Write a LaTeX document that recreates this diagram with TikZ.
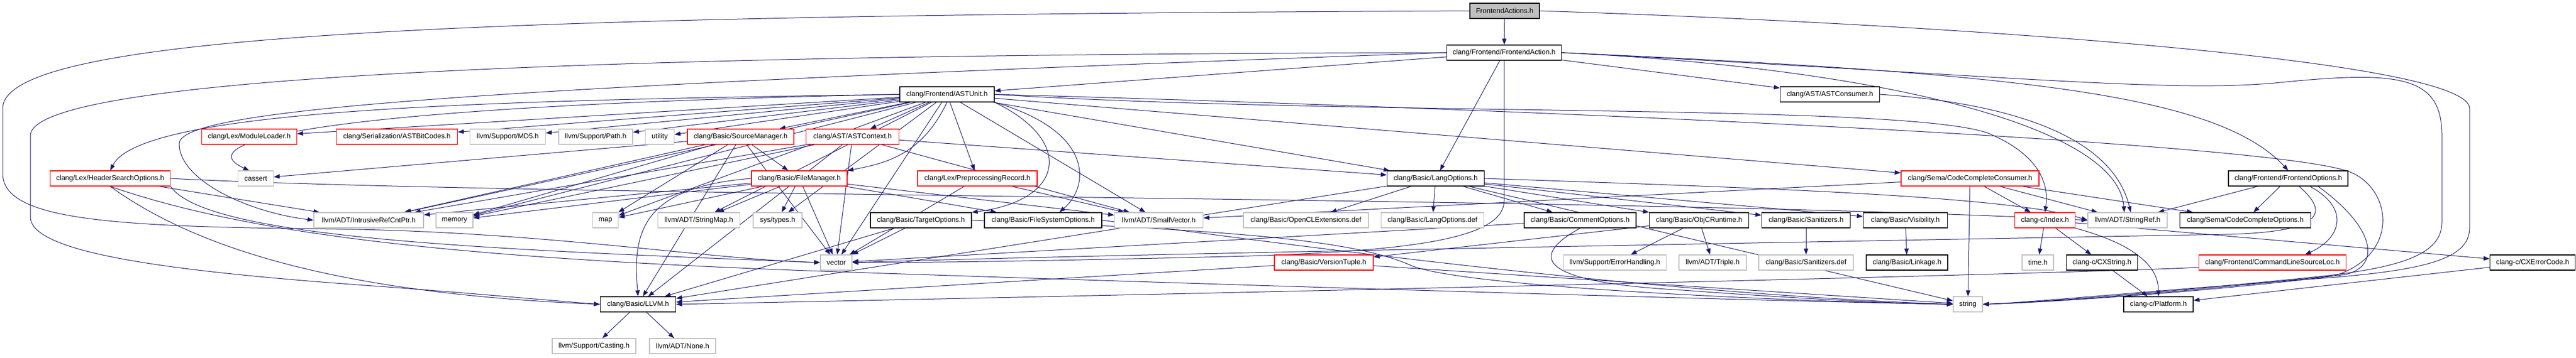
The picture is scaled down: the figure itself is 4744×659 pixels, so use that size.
\documentclass[tikz,border=0pt]{standalone}
\usepackage{fontspec}
\setmainfont{Liberation Sans}
\usetikzlibrary{arrows.meta,backgrounds}
\definecolor{edgeblue}{HTML}{191970}
\definecolor{sysgray}{HTML}{BFBFBF}
\newcommand{\depfont}{\fontsize{13}{15}\selectfont}
\begin{document}
\begin{tikzpicture}[x=1pt,y=1pt,
    hdr/.style={draw=black,fill=white,line width=1.3pt,minimum height=28pt,inner xsep=2pt,inner ysep=0pt,font=\depfont},
    syshdr/.style={hdr,draw=sysgray},
    cuthdr/.style={hdr,draw=red},
    roothdr/.style={hdr,fill=sysgray},
    dep/.style={draw=edgeblue,line width=1pt,-{Triangle[length=11pt,width=8pt]}}]
\useasboundingbox (0,0) rectangle (4744,-659);
% rows 1-3
\node[roothdr,minimum width=128pt] (root) at (2771,-20) {FrontendActions.h};
\node[hdr,minimum width=211pt] (fa) at (2770,-97) {clang/Frontend/FrontendAction.h};
\node[hdr,minimum width=174pt] (astunit) at (1744,-174) {clang/Frontend/ASTUnit.h};
\node[hdr,minimum width=183pt] (astcons) at (3370,-174) {clang/AST/ASTConsumer.h};
% row 4
\node[cuthdr,minimum width=175pt] (modload) at (459,-252) {clang/Lex/ModuleLoader.h};
\node[cuthdr,minimum width=223pt] (bitcodes) at (731,-252) {clang/Serialization/ASTBitCodes.h};
\node[syshdr,minimum width=139pt] (md5) at (935,-252) {llvm/Support/MD5.h};
\node[syshdr,minimum width=136pt] (path) at (1097,-252) {llvm/Support/Path.h};
\node[syshdr,minimum width=53pt] (utility) at (1215,-252) {utility};
\node[cuthdr,minimum width=196pt] (srcmgr) at (1364,-252) {clang/Basic/SourceManager.h};
\node[cuthdr,minimum width=171pt] (astctx) at (1570,-252) {clang/AST/ASTContext.h};
% row 5
\node[cuthdr,minimum width=221pt] (hsopts) at (203,-329) {clang/Lex/HeaderSearchOptions.h};
\node[syshdr,minimum width=65pt] (cassert) at (471,-329) {cassert};
\node[cuthdr,minimum width=176pt] (filemgr) at (1472,-329) {clang/Basic/FileManager.h};
\node[cuthdr,minimum width=220pt] (pprec) at (1800,-329) {clang/Lex/PreprocessingRecord.h};
\node[hdr,minimum width=179pt] (langopts) at (2644,-329) {clang/Basic/LangOptions.h};
\node[cuthdr,minimum width=254pt] (cccons) at (3628,-329) {clang/Sema/CodeCompleteConsumer.h};
\node[hdr,minimum width=220pt] (feopts) at (4214,-329) {clang/Frontend/FrontendOptions.h};
% row 6
\node[syshdr,minimum width=202pt] (irc) at (679,-406) {llvm/ADT/IntrusiveRefCntPtr.h};
\node[syshdr,minimum width=68pt] (memory) at (837,-406) {memory};
\node[syshdr,minimum width=47pt] (map) at (1115,-406) {map};
\node[syshdr,minimum width=151pt] (strmap) at (1287,-406) {llvm/ADT/StringMap.h};
\node[syshdr,minimum width=90pt] (systypes) at (1432,-406) {sys/types.h};
\node[hdr,minimum width=186pt] (tgtopts) at (1696,-406) {clang/Basic/TargetOptions.h};
\node[hdr,minimum width=216pt] (fsopts) at (1921,-406) {clang/Basic/FileSystemOptions.h};
\node[syshdr,minimum width=163pt] (smallvec) at (2134,-406) {llvm/ADT/SmallVector.h};
\node[syshdr,minimum width=230pt] (oclext) at (2405,-406) {clang/Basic/OpenCLExtensions.def};
\node[syshdr,minimum width=189pt] (langdef) at (2638,-406) {clang/Basic/LangOptions.def};
\node[hdr,minimum width=206pt] (cmtopts) at (2910,-406) {clang/Basic/CommentOptions.h};
\node[hdr,minimum width=183pt] (objcrt) at (3129,-406) {clang/Basic/ObjCRuntime.h};
\node[hdr,minimum width=163pt] (sanh) at (3326,-406) {clang/Basic/Sanitizers.h};
\node[hdr,minimum width=155pt] (vis) at (3509,-406) {clang/Basic/Visibility.h};
\node[cuthdr,minimum width=111pt] (index) at (3766,-406) {clang-c/Index.h};
\node[syshdr,minimum width=146pt] (strref) at (3918,-406) {llvm/ADT/StringRef.h};
\node[hdr,minimum width=241pt] (ccopts) at (4135,-406) {clang/Sema/CodeCompleteOptions.h};
% row 7
\node[syshdr,minimum width=58pt] (vector) at (1540,-484) {vector};
\node[cuthdr,minimum width=182pt] (vtuple) at (2438,-484) {clang/Basic/VersionTuple.h};
\node[syshdr,minimum width=189pt] (errh) at (2974,-484) {llvm/Support/ErrorHandling.h};
\node[syshdr,minimum width=124pt] (triple) at (3154,-484) {llvm/ADT/Triple.h};
\node[syshdr,minimum width=174pt] (sandef) at (3326,-484) {clang/Basic/Sanitizers.def};
\node[hdr,minimum width=150pt] (linkage) at (3512,-484) {clang/Basic/Linkage.h};
\node[syshdr,minimum width=58pt] (timeh) at (3753,-484) {time.h};
\node[hdr,minimum width=131pt] (cxstr) at (3871,-484) {clang-c/CXString.h};
\node[cuthdr,minimum width=271pt] (clsloc) at (4185,-484) {clang/Frontend/CommandLineSourceLoc.h};
\node[hdr,minimum width=157pt] (cxerr) at (4664,-484) {clang-c/CXErrorCode.h};
% rows 8-9
\node[hdr,minimum width=139pt] (llvm) at (1175,-561) {clang/Basic/LLVM.h};
\node[syshdr,minimum width=54pt] (string) at (3624,-561) {string};
\node[hdr,minimum width=128pt] (platform) at (3975,-561) {clang-c/Platform.h};
\node[syshdr,minimum width=154pt] (casting) at (1094,-638) {llvm/Support/Casting.h};
\node[syshdr,minimum width=122pt] (none) at (1257,-638) {llvm/ADT/None.h};

\begin{pgfonlayer}{background}
% FrontendActions.h
\draw[dep] (root) -- (fa);
\draw[dep] (root.west) .. controls (900,-28) and (5,-60) .. (5,-200) -- (5,-320) .. controls (5,-405) and (200,-418) .. (600,-422) .. controls (1000,-426) and (1300,-478) .. (vector.west);
\draw[dep] (root.east) .. controls (3600,-45) and (4548,-110) .. (4548,-200) -- (4548,-420) .. controls (4548,-480) and (4460,-500) .. (4250,-515) .. controls (3950,-537) and (3760,-556) .. (string.east);
% FrontendAction.h
\draw[dep] (fa) -- (astunit);
\draw[dep] (fa) -- (astcons);
\draw[dep] (fa) -- (langopts);
\draw[dep] (fa.east) .. controls (3700,-135) and (4080,-170) .. (feopts.north);
\draw[dep] (fa.east) .. controls (3450,-125) and (3900,-230) .. ([xshift=-6pt]strref.north);
\draw[dep] (fa.west) .. controls (1300,-100) and (56,-130) .. (56,-250) -- (56,-400) .. controls (56,-465) and (300,-500) .. (700,-528) .. controls (900,-543) and (1000,-553) .. (llvm.west);
\draw[dep] (fa.south) -- (2770,-370) .. controls (2770,-440) and (2600,-462) .. (2300,-472) .. controls (1900,-482) and (1700,-484) .. (vector.east);
\draw[dep] (fa.west) .. controls (900,-160) and (330,-200) .. (330,-265) .. controls (330,-330) and (450,-390) .. (irc.west);
\draw[dep] (fa.east) .. controls (3700,-140) and (4000,-172) .. (4200,-152) .. controls (4420,-130) and (4497,-140) .. (4497,-250) -- (4497,-410) .. controls (4497,-470) and (4420,-495) .. (4250,-512) .. controls (3950,-542) and (3760,-557) .. (string.east);
% ASTUnit.h
\draw[dep] (astunit) -- (modload);
\draw[dep] (astunit) -- (bitcodes);
\draw[dep] (astunit) -- (md5);
\draw[dep] (astunit) -- (path);
\draw[dep] (astunit) -- (utility);
\draw[dep] (astunit) -- (srcmgr);
\draw[dep] (astunit) -- (astctx);
\draw[dep] (astunit) -- (pprec);
\draw[dep] (astunit) -- (langopts);
\draw[dep] (astunit) -- (cccons);
\draw[dep] (astunit) -- (irc);
\draw[dep] (astunit) -- (memory);
\draw[dep] (astunit) -- (map);
\draw[dep] (astunit) -- (strmap);
\draw[dep] (astunit) -- (systypes);
\draw[dep] (astunit) -- (smallvec);
\draw[dep] (astunit) -- (vector);
\draw[dep] (astunit.west) .. controls (900,-185) and (260,-200) .. (hsopts.north);
\draw[dep] (astunit.west) .. controls (600,-195) and (340,-260) .. ([xshift=-12pt]cassert.north);
\draw[dep] (astunit.south) .. controls (1700,-280) and (1640,-300) .. (filemgr.north east);
\draw[dep] (astunit.south east) .. controls (1980,-260) and (1960,-370) .. (tgtopts.north east);
\draw[dep] (astunit.south east) .. controls (2010,-240) and (2010,-340) .. ([xshift=30pt]fsopts.north);
\draw[dep] (astunit.east) .. controls (2500,-215) and (3500,-190) .. (3660,-245) .. controls (3745,-280) and (3775,-330) .. (index.north);
\draw[dep] (astunit.east) .. controls (2800,-200) and (4200,-262) .. (4330,-318) .. controls (4405,-350) and (4420,-470) .. (4300,-508) .. controls (4000,-540) and (3800,-556) .. (string.east);
% ASTConsumer.h
\draw[dep] (astcons.east) .. controls (3700,-190) and (3890,-250) .. ([xshift=6pt]strref.north);
% SourceManager.h
\draw[dep] (srcmgr) -- (filemgr);
\draw[dep] (srcmgr) -- (map);
\draw[dep] (srcmgr) -- (memory);
\draw[dep] (srcmgr) -- (irc);
\draw[dep] (srcmgr) -- (llvm);
\draw[dep] (srcmgr) -- (vector);
\draw[dep] (srcmgr) -- (cassert);
% ASTContext.h
\draw[dep] (astctx) -- (langopts);
\draw[dep] (astctx) -- (irc);
\draw[dep] (astctx) -- (smallvec);
\draw[dep] (astctx) -- (llvm);
\draw[dep] (astctx) -- (vector);
\draw[dep] (astctx) -- (memory);
% FileManager.h
\draw[dep] (filemgr.west) .. controls (1180,-345) and (1165,-430) .. (llvm.north);
\draw[dep] (filemgr) -- (map);
\draw[dep] (filemgr) -- (strmap);
\draw[dep] (filemgr) -- (systypes);
\draw[dep] (filemgr) -- (irc);
\draw[dep] (filemgr) -- (memory);
\draw[dep] (filemgr) -- (fsopts);
\draw[dep] (filemgr) -- (smallvec);
\draw[dep] (filemgr) -- (vector);
% HeaderSearchOptions.h
\draw[dep] (hsopts.east) .. controls (1000,-364) and (3000,-362) .. (strref.west);
\draw[dep] (hsopts) -- (irc);
\draw[dep] (hsopts.south east) .. controls (380,-440) and (900,-460) .. (vector.west);
\draw[dep] (hsopts.south) .. controls (350,-450) and (600,-540) .. (llvm.west);
\draw[dep] (hsopts.south) .. controls (480,-440) and (900,-480) .. (1600,-503) .. controls (2500,-533) and (3300,-556) .. (string.west);
% PreprocessingRecord.h
\draw[dep] (pprec) -- (smallvec);
\draw[dep] (pprec) -- (vector);
% LangOptions.h
\draw[dep] (langopts) -- (llvm);
\draw[dep] (langopts) -- (oclext);
\draw[dep] (langopts) -- (langdef);
\draw[dep] (langopts) -- (cmtopts);
\draw[dep] (langopts) -- (objcrt);
\draw[dep] (langopts) -- (sanh);
\draw[dep] (langopts) -- (vis);
\draw[dep] (langopts) -- (string);
\draw[dep] (langopts.east) .. controls (3200,-345) and (3700,-360) .. (strref.west);
% CommentOptions.h, ObjCRuntime.h
\draw[dep] (cmtopts.south) .. controls (2820,-470) and (2820,-520) .. (3100,-535) .. controls (3300,-550) and (3500,-560) .. (string.west);
\draw[dep] (cmtopts) -- (vector);
\draw[dep] (objcrt) -- (vtuple);
\draw[dep] (objcrt) -- (errh);
\draw[dep] (objcrt) -- (triple);
\draw[dep] (sanh) -- (sandef);
\draw[dep] (vis) -- (linkage);
% TargetOptions.h, FileSystemOptions.h
\draw[dep] (tgtopts) -- (llvm);
\draw[dep] (tgtopts) -- (vector);
\draw[dep] (tgtopts.east) .. controls (2300,-425) and (2500,-445) .. (2600,-490) .. controls (2700,-530) and (3300,-556) .. (string.west);
\draw[dep] (fsopts.east) .. controls (2300,-440) and (3000,-540) .. (string.west);
% CodeCompleteConsumer.h
\draw[dep] (cccons) -- (index);
\draw[dep] (cccons) -- (strref);
\draw[dep] (cccons) -- (string);
\draw[dep] (cccons) -- (ccopts);
\draw[dep] (cccons) -- (smallvec);
% clang-c
\draw[dep] (index) -- (timeh);
\draw[dep] (index) -- (cxstr);
\draw[dep] (index.south east) .. controls (3930,-450) and (3975,-490) .. (platform.north);
\draw[dep] (index) -- (cxerr);
\draw[dep] (cxstr) -- (platform);
\draw[dep] (cxerr) -- (platform);
% VersionTuple.h, LLVM.h
\draw[dep] (vtuple) -- (llvm);
\draw[dep] (vtuple) -- (string);
\draw[dep] (llvm) -- (casting);
\draw[dep] (llvm) -- (none);
% FrontendOptions.h
\draw[dep] (feopts) -- (ccopts);
\draw[dep] (feopts) -- (strref);
\draw[dep] ([xshift=40pt]feopts.south) .. controls (4330,-385) and (4310,-440) .. ([xshift=60pt]clsloc.north);
\draw[dep] ([xshift=55pt]feopts.south) .. controls (4375,-420) and (4385,-490) .. (4320,-506) .. controls (4100,-535) and (3800,-556) .. (string.east);
\draw[dep] ([xshift=20pt]feopts.south) .. controls (4290,-392) and (4280,-428) .. (4100,-432) .. controls (3000,-452) and (2000,-470) .. (vector.east);
% CommandLineSourceLoc.h
\draw[dep] ([yshift=-9pt]clsloc.west) .. controls (3800,-505) and (2300,-540) .. (llvm.east);
\end{pgfonlayer}
\end{tikzpicture}
\end{document}
